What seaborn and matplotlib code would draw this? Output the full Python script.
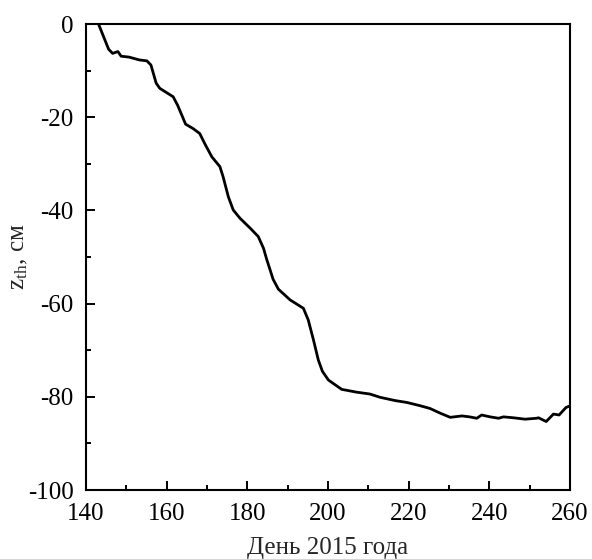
import matplotlib
matplotlib.use("Agg")
import matplotlib.pyplot as plt
from matplotlib.ticker import MultipleLocator
import pandas as pd
import seaborn as sns

# Thaw depth z_th (cm) by day of year, 2015
days = [143.1, 145.6, 146.6, 147.9, 148.7, 150.7, 153.2, 155.1, 156.1, 157.4,
        158.3, 161.6, 162.7, 164.7, 166.5, 168.2, 169.4, 171.2, 173.2, 174.0,
        175.3, 176.5, 178.2, 180.7, 182.7, 184.0, 184.8, 186.4, 187.7, 190.6,
        193.9, 195.1, 196.4, 197.6, 198.6, 200.1, 203.4, 207.1, 210.4, 212.9,
        216.6, 219.5, 222.8, 225.3, 227.8, 230.3, 233.2, 235.1, 236.9, 238.1,
        240.2, 242.3, 243.5, 246.0, 248.9, 251.7, 252.2, 254.1, 255.9, 257.3,
        259.0, 259.8]
depth = [0.0, -5.4, -6.3, -5.9, -6.9, -7.1, -7.7, -7.9, -8.8, -12.7,
         -13.8, -15.6, -17.4, -21.5, -22.4, -23.5, -25.6, -28.5, -30.6, -32.8,
         -37.1, -39.9, -41.7, -43.8, -45.6, -48.1, -50.5, -54.8, -56.9, -59.2,
         -61.0, -63.5, -67.8, -72.1, -74.5, -76.4, -78.4, -79.0, -79.4, -80.1,
         -80.8, -81.2, -81.9, -82.5, -83.5, -84.4, -84.1, -84.3, -84.6, -83.9,
         -84.3, -84.6, -84.3, -84.5, -84.8, -84.6, -84.5, -85.3, -83.7, -83.9,
         -82.3, -82.0]

x_ticks = [140, 160, 180, 200, 220, 240, 260]
y_ticks = [-100, -80, -60, -40, -20, 0]

sns.set_style("ticks")
plt.rcParams["font.family"] = ["Liberation Serif", "DejaVu Serif"]
plt.rcParams["mathtext.fontset"] = "custom"
plt.rcParams["mathtext.rm"] = "Liberation Serif"
plt.rcParams["mathtext.it"] = "Liberation Serif:italic"

df = pd.DataFrame({"day": days, "z": depth})

fig = plt.figure(figsize=(5.92, 5.59), dpi=100)
ax = fig.add_axes([0.1453, 0.1234, 0.8175, 0.8336])
sns.lineplot(data=df, x="day", y="z", ax=ax, color="black", linewidth=2.0,
             sort=False, estimator=None)

ax.set_xlim(140, 260)
ax.set_ylim(-100, 0)
ax.set_xticks(x_ticks)
ax.set_yticks(y_ticks)
ax.set_xticklabels([str(t) for t in x_ticks])
ax.set_yticklabels([str(t) for t in y_ticks])
ax.xaxis.set_minor_locator(MultipleLocator(10))
ax.yaxis.set_minor_locator(MultipleLocator(10))
ax.tick_params(which="both", direction="in", top=False, right=False,
               width=1.4, labelsize=18, pad=9, colors="black")
ax.tick_params(which="major", length=6.5)
ax.tick_params(which="minor", length=3.5)
for s in ax.spines.values():
    s.set_visible(True)
    s.set_linewidth(1.5)
    s.set_color("black")

ax.set_xlabel("День 2015 года", fontsize=18, labelpad=9)
ax.set_ylabel(r"z$_{\mathrm{th}}$, см", fontsize=18)
ax.yaxis.set_label_coords(-0.116, 0.5)

fig.savefig("out.png", dpi=100)
